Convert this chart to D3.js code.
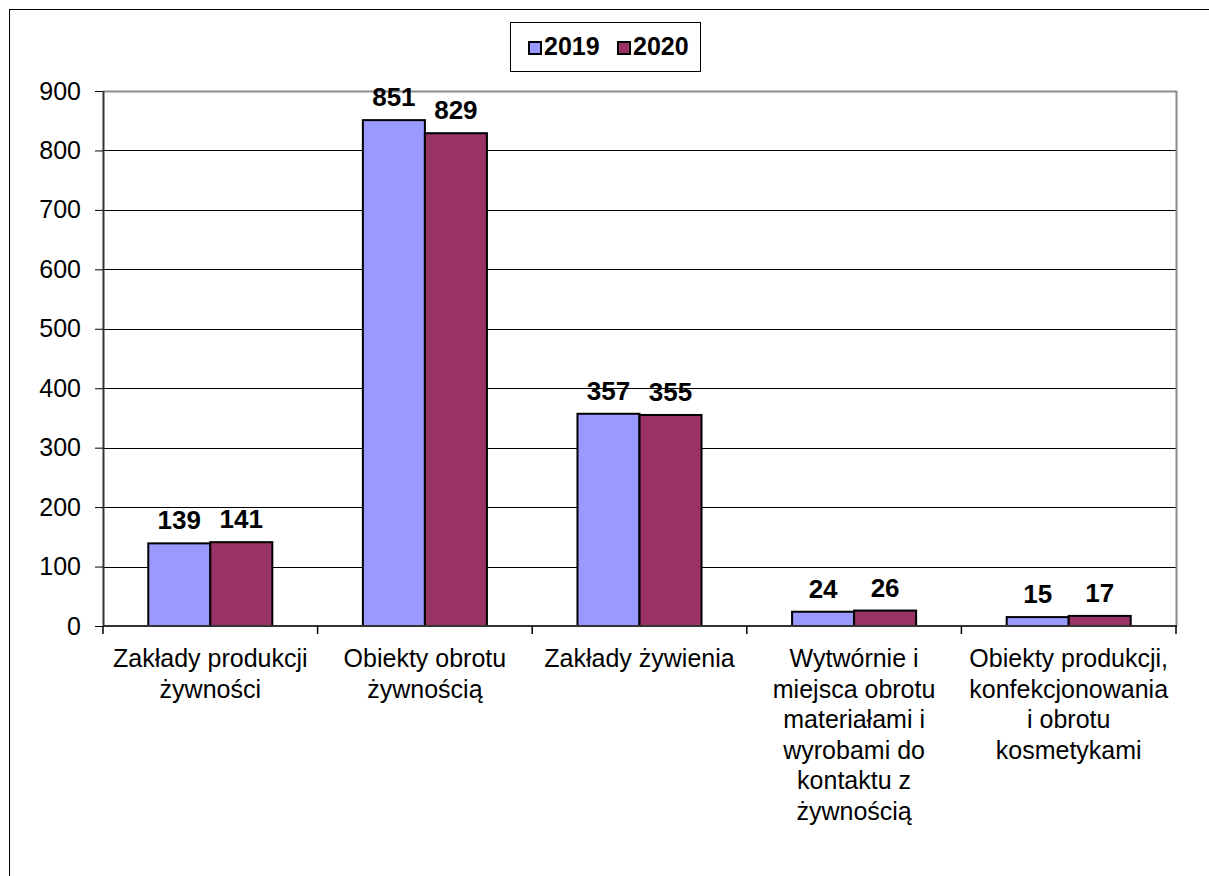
<!DOCTYPE html>
<html lang="pl">
<head>
<meta charset="UTF-8">
<title>Obiekty 2019-2020</title>
<script src="https://d3js.org/d3.v7.min.js"></script>
<style>
  body { margin: 0; background: #fff; }
  svg { display: block; font-family: "Liberation Sans", Arial, sans-serif; }
</style>
</head>
<body>
<div id="chart"></div>
<script>
// data
var categories = [
  "Zakłady produkcji|żywności",
  "Obiekty obrotu|żywnością",
  "Zakłady żywienia",
  "Wytwórnie i|miejsca obrotu|materiałami i|wyrobami do|kontaktu z|żywnością",
  "Obiekty produkcji,|konfekcjonowania|i obrotu|kosmetykami"
];
var years = ["2019", "2020"];
var values2019 = [139, 851, 357, 24, 15];
var values2020 = [141, 829, 355, 26, 17];
var yTicks = [0, 100, 200, 300, 400, 500, 600, 700, 800, 900];
var colors = ["#9999FF", "#993366"];

var W = 1209, H = 876;
var plot = { left: 103, top: 91, right: 1176, bottom: 626 };

var svg = d3.select("#chart").append("svg")
  .attr("width", W).attr("height", H);

// outer chart border (runs off the right and bottom of the window)
svg.append("rect")
  .attr("x", 9.5).attr("y", 9.5)
  .attr("width", W + 20).attr("height", H + 20)
  .attr("fill", "none").attr("stroke", "#000").attr("stroke-width", 1);

var x = d3.scaleBand().domain(d3.range(categories.length))
  .range([plot.left, plot.right]).paddingInner(0).paddingOuter(0);
var y = d3.scaleLinear().domain([0, 900]).range([plot.bottom, plot.top]);

// gridlines
svg.append("g").selectAll("line")
  .data(yTicks.filter(function (d) { return d > 0 && d < 900; }))
  .join("line")
  .attr("x1", plot.left).attr("x2", plot.right)
  .attr("y1", function (d) { return Math.round(y(d)) + 0.5; })
  .attr("y2", function (d) { return Math.round(y(d)) + 0.5; })
  .attr("stroke", "#000").attr("stroke-width", 1);

// plot border top/right (grey)
svg.append("path")
  .attr("d", "M" + plot.left + "," + (plot.top + 0.5) + "H" + (plot.right + 0.5) + "V" + plot.bottom)
  .attr("fill", "none").attr("stroke", "#8c8c8c").attr("stroke-width", 2);

// bars
var barW = x.bandwidth() / 3.46;
var series = [values2019, values2020];
series.forEach(function (vals, si) {
  var g = svg.append("g");
  g.selectAll("rect").data(vals).join("rect")
    .attr("x", function (d, i) { return x(i) + x.bandwidth() / 2 - barW + si * barW; })
    .attr("y", function (d) { return y(d); })
    .attr("width", barW)
    .attr("height", function (d) { return y(0) - y(d); })
    .attr("fill", colors[si])
    .attr("stroke", "#000").attr("stroke-width", 2);

  g.selectAll("text").data(vals).join("text")
    .attr("x", function (d, i) { return x(i) + x.bandwidth() / 2 - barW / 2 + si * barW; })
    .attr("y", function (d) { return y(d) - 14; })
    .attr("text-anchor", "middle")
    .attr("font-size", 26).attr("font-weight", "bold")
    .attr("fill", "#000")
    .text(function (d) { return d; });
});

// y axis
var yAxis = svg.append("g")
  .attr("transform", "translate(" + plot.left + ",0)")
  .call(d3.axisLeft(y).tickValues(yTicks).tickSize(8).tickPadding(14).tickSizeOuter(0));
yAxis.attr("font-size", null).attr("font-family", null);
yAxis.select(".domain").attr("stroke", "#333").attr("stroke-width", 2);
yAxis.selectAll(".tick line").attr("stroke", "#000");
yAxis.selectAll(".tick text")
  .style("font-size", "25px")
  .attr("fill", "#000");

// x axis line and boundary ticks
svg.append("line")
  .attr("x1", plot.left).attr("x2", plot.right + 1)
  .attr("y1", plot.bottom).attr("y2", plot.bottom)
  .attr("stroke", "#333").attr("stroke-width", 2);
svg.append("g").selectAll("line")
  .data(d3.range(categories.length + 1))
  .join("line")
  .attr("x1", function (i) { return plot.left + i * x.bandwidth(); })
  .attr("x2", function (i) { return plot.left + i * x.bandwidth(); })
  .attr("y1", plot.bottom).attr("y2", plot.bottom + 8)
  .attr("stroke", "#000").attr("stroke-width", 1.5);

// category labels
var catLabels = svg.append("g").selectAll("text")
  .data(categories).join("text")
  .attr("text-anchor", "middle")
  .attr("font-size", 25).attr("fill", "#000");
catLabels.each(function (d, i) {
  var t = d3.select(this);
  d.split("|").forEach(function (line, li) {
    t.append("tspan")
      .attr("x", x(i) + x.bandwidth() / 2)
      .attr("y", 667 + li * 30.5)
      .text(line);
  });
});

// legend
var legend = svg.append("g");
legend.append("rect")
  .attr("x", 510.5).attr("y", 22.5).attr("width", 190).attr("height", 49)
  .attr("fill", "#fff").attr("stroke", "#000").attr("stroke-width", 1);
var legItems = legend.selectAll("g.item").data(years).join("g")
  .attr("class", "item")
  .attr("transform", function (d, i) { return "translate(" + (529 + i * 89) + ",0)"; });
legItems.append("rect")
  .attr("x", 0).attr("y", 42).attr("width", 12).attr("height", 12)
  .attr("fill", function (d, i) { return colors[i]; })
  .attr("stroke", "#000").attr("stroke-width", 2);
legItems.append("text")
  .attr("x", 15).attr("y", 55)
  .attr("font-size", 25).attr("font-weight", "bold").attr("fill", "#000")
  .text(function (d) { return d; });
</script>
</body>
</html>
